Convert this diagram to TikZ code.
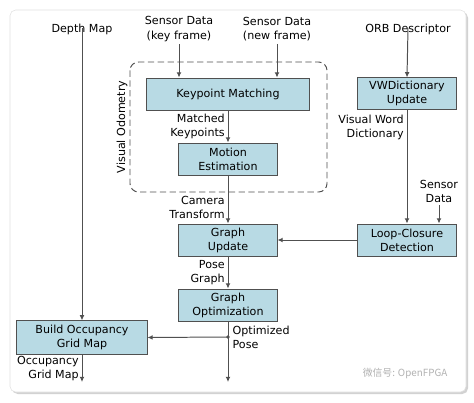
\documentclass[tikz,border=0pt]{standalone}
\usepackage{fontspec}
\setmainfont{DejaVu Sans}
\newfontfamily\cjkfont{Noto Sans CJK SC}
\usetikzlibrary{arrows.meta,positioning,calc}
\definecolor{BoxBlue}{RGB}{184,218,228}
\definecolor{LineGray}{RGB}{80,80,80}
\definecolor{PanelEdge}{RGB}{225,225,225}

\begin{document}
\begin{tikzpicture}[x=0.025cm,y=-0.025cm,
  block/.style={draw=LineGray,fill=BoxBlue,line width=0.7pt,minimum height=0.8cm,
  inner sep=1pt,align=center,font=\fontsize{7.9}{10}\selectfont},
  lbl/.style={inner sep=1pt,font=\fontsize{7.9}{10}\selectfont},
  flow/.style={-{Latex[length=1.3mm,width=1.2mm]},line width=0.7pt,draw=LineGray}]
\useasboundingbox (0,0) rectangle (474,402);
\fill[gray!35,rounded corners=4pt] (12,12) rectangle (468,394);
\draw[PanelEdge,fill=white,rounded corners=4pt] (10,10) rectangle (466,392);
\draw[LineGray,line width=0.7pt,dashed,dash pattern=on 4.5pt off 2.5pt,rounded corners=6pt]
  (130,62) rectangle (327,192);
\node[lbl,rotate=90] (vo) at (122,127) {Visual Odometry};
\node[block,minimum width=4.05cm] (match) at (228,94) {Keypoint Matching};
\node[block,minimum width=2.45cm] (motion) at (228,159) {Motion\\Estimation};
\node[block,minimum width=2.45cm] (gupdate) at (228,240) {Graph\\Update};
\node[block,minimum width=2.45cm] (gopt) at (228,305) {Graph\\Optimization};
\node[block,minimum width=3.25cm,minimum height=0.83cm] (occ) at (82,337.5) {Build Occupancy\\Grid Map};
\node[block,minimum width=2.45cm,minimum height=0.78cm] (vwdict) at (407,93.5) {VWDictionary\\Update};
\node[block,minimum width=2.45cm] (loop) at (407,240) {Loop-Closure\\Detection};
\node[lbl] (depth) at (82,29) {Depth Map};
\node[lbl,align=center,inner sep=2pt] (keyframe) at (179,29) {Sensor Data\\(key frame)};
\node[lbl,align=center,inner sep=2pt] (newframe) at (277,29) {Sensor Data\\(new frame)};
\node[lbl] (orb) at (408,29) {ORB Descriptor};
\node[lbl,align=center,inner sep=2pt] (sensor) at (439,191) {Sensor\\Data};
\coordinate (poseout) at (228,382);
\coordinate (mapout) at (82,382);
\coordinate (split) at (228,337);
\draw[flow] (depth.south) ++(0,-8) -- (occ.north);
\draw[flow] (keyframe.south) -- (keyframe.south |- match.north);
\draw[flow] (newframe.south) -- (newframe.south |- match.north);
\draw[flow] (orb.south) ++(0,-8) -- (vwdict.north);
\draw[flow] (match) -- node[lbl,left,align=right,xshift=-1pt]{Matched\\Keypoints} (motion);
\draw[flow] (motion) -- node[lbl,left,align=right,xshift=-1pt,pos=0.66]{Camera\\Transform} (gupdate);
\draw[flow] (gupdate) -- node[lbl,left,align=right,xshift=-1pt]{Pose\\Graph} (gopt);
\draw[flow] (gopt) -- (poseout);
\fill[LineGray] (split) circle (1.3pt);
\draw[flow] (split) -- (occ.east);
\node[lbl,align=left,anchor=west] (optpose) at (231,337) {Optimized\\Pose};
\draw[flow] (occ) -- node[lbl,left,align=right,xshift=-1pt]{Occupancy\\Grid Map} (mapout);
\draw[flow] (vwdict) -- node[lbl,left,align=right,xshift=-1pt,pos=0.16]{Visual Word\\Dictionary} (loop);
\draw[flow] (sensor.south) -- (sensor.south |- loop.north);
\draw[flow] (loop) -- (gupdate);
\node[lbl,text=gray!60,font=\cjkfont\fontsize{7}{8}\selectfont] (mark) at (405,373) {微信号: OpenFPGA};
\end{tikzpicture}
\end{document}
